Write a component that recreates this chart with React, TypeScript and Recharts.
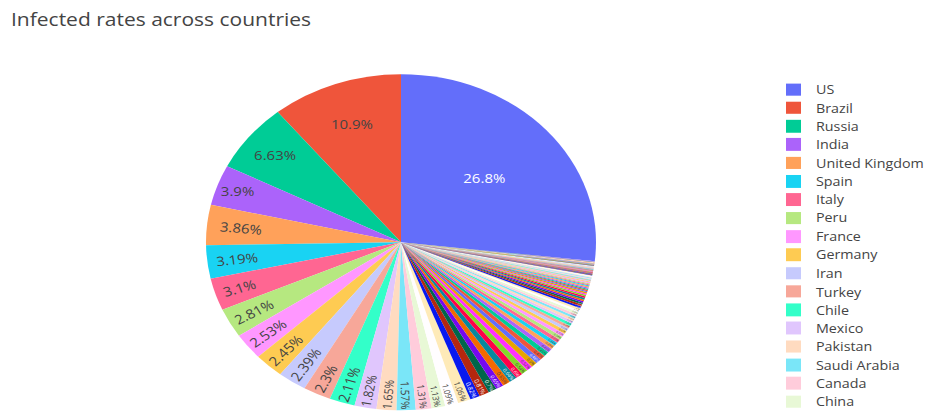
import { PieChart, Pie, Cell, Legend } from "recharts";

// share of world confirmed cases, in %, sorted descending (as plotly sorts the pie)
const countries = [
  "US", "Brazil", "Russia", "India", "United Kingdom", "Spain", "Italy", "Peru", "France", "Germany",
  "Iran", "Turkey", "Chile", "Mexico", "Pakistan", "Saudi Arabia", "Canada", "China", "Bangladesh", "Qatar",
  "South Africa", "Belgium", "Belarus", "Sweden", "Netherlands", "Colombia", "Ecuador", "United Arab Emirates", "Singapore", "Egypt",
  "Portugal", "Indonesia", "Kuwait", "Switzerland", "Ukraine", "Poland", "Argentina", "Ireland", "Philippines", "Afghanistan",
  "Dominican Republic", "Romania", "Oman", "Panama", "Israel", "Japan", "Bahrain", "Austria", "Bolivia", "Iraq",
  "Armenia", "Nigeria", "Kazakhstan", "Denmark", "Korea, South", "Serbia", "Moldova", "Ghana", "Algeria", "Czechia",
  "Norway", "Cameroon", "Morocco", "Malaysia", "Azerbaijan", "Guatemala", "Australia", "Finland", "Honduras", "Sudan",
  "Uzbekistan", "Tajikistan", "Nepal", "Senegal", "Congo (Kinshasa)", "Djibouti", "Guinea", "Cote d'Ivoire", "Luxembourg", "Hungary",
  "Haiti", "North Macedonia", "El Salvador", "Gabon", "Kenya", "Thailand", "Greece", "Bulgaria", "Bosnia and Herzegovina", "Venezuela",
  "Somalia", "Kyrgyzstan", "Ethiopia", "Croatia", "Cuba", "Maldives", "Estonia", "Sri Lanka", "Iceland", "Lithuania",
  "Mali", "Central African Republic", "Mauritania", "South Sudan", "Slovakia", "Costa Rica", "New Zealand", "Slovenia", "Nicaragua", "Lebanon",
  "Albania", "Equatorial Guinea", "Guinea-Bissau", "Kosovo", "Zambia", "Paraguay", "Latvia", "Tunisia", "Sierra Leone", "Madagascar",
  "Niger", "Cyprus", "Burkina Faso", "Uruguay", "Andorra", "Chad", "Jordan", "Georgia", "Diamond Princess", "San Marino",
  "Congo (Brazzaville)", "Cabo Verde", "Uganda", "Malta", "Jamaica", "Sao Tome and Principe", "West Bank and Gaza", "Yemen", "Tanzania", "Togo",
  "Mozambique", "Rwanda", "Malawi", "Taiwan*", "Liberia", "Eswatini", "Libya", "Mauritius", "Vietnam", "Montenegro",
  "Benin", "Zimbabwe", "Burma", "Mongolia", "Guyana", "Syria", "Comoros", "Brunei", "Angola", "Cambodia",
  "Trinidad and Tobago", "Suriname", "Bahamas", "Monaco", "Barbados", "Burundi", "Liechtenstein", "Eritrea", "Botswana", "Bhutan",
  "Gambia", "Namibia", "Saint Vincent and the Grenadines", "Antigua and Barbuda", "Timor-Leste", "Grenada", "Belize", "Laos", "Saint Lucia", "Fiji",
  "Dominica", "Saint Kitts and Nevis", "Holy See", "Seychelles", "MS Zaandam", "Western Sahara", "Papua New Guinea", "Lesotho",
];

const shares = [
  26.8, 10.9, 6.63, 3.9, 3.86, 3.19, 3.1, 2.81, 2.53, 2.45,
  2.39, 2.3, 2.11, 1.82, 1.65, 1.57, 1.31, 1.13, 1.09, 1.06,
  0.82, 0.81, 0.7, 0.65, 0.65, 0.64, 0.6, 0.54, 0.52, 0.5,
  0.48, 0.47, 0.45, 0.41, 0.39, 0.38, 0.35, 0.34, 0.33, 0.31,
  0.29, 0.28, 0.26, 0.25, 0.25, 0.23, 0.23, 0.23, 0.21, 0.2,
  0.19, 0.19, 0.18, 0.16, 0.16, 0.16, 0.15, 0.15, 0.14, 0.13,
  0.115, 0.115, 0.114, 0.112, 0.11, 0.11, 0.098, 0.094, 0.093, 0.09,
  0.067, 0.064, 0.062, 0.062, 0.06, 0.058, 0.058, 0.056, 0.055, 0.054,
  0.052, 0.05, 0.048, 0.044, 0.043, 0.042, 0.042, 0.041, 0.039, 0.035,
  0.033, 0.031, 0.031, 0.03, 0.03, 0.027, 0.026, 0.025, 0.024, 0.023,
  0.023, 0.022, 0.021, 0.021, 0.021, 0.02, 0.02, 0.02, 0.019, 0.019,
  0.019, 0.018, 0.018, 0.017, 0.017, 0.016, 0.015, 0.015, 0.014, 0.014,
  0.013, 0.013, 0.012, 0.011, 0.011, 0.011, 0.011, 0.011, 0.0095, 0.0093,
  0.0093, 0.0093, 0.009, 0.0085, 0.0082, 0.0079, 0.0077, 0.0075, 0.0068, 0.0067,
  0.0066, 0.0064, 0.0064, 0.0059, 0.0054, 0.0054, 0.0053, 0.0045, 0.0045, 0.0043,
  0.004, 0.004, 0.0035, 0.0027, 0.0021, 0.0021, 0.0021, 0.0019, 0.0017, 0.0017,
  0.0016, 0.0015, 0.0014, 0.0013, 0.0013, 0.0012, 0.0011, 0.0008, 0.0008, 0.0008,
  0.0004, 0.0004, 0.0004, 0.0003, 0.0003, 0.0003, 0.0003, 0.0003, 0.0003, 0.0002,
  0.0002, 0.0002, 0.0002, 0.0001, 0.0001, 0.0001, 0.0001, 0.0001,
];

// plotly colorway, then lightened, then darkened (extendpiecolors)
const palette = [
  "#636efa", "#EF553B", "#00cc96", "#ab63fa", "#FFA15A", "#19d3f3", "#FF6692", "#B6E880", "#FF97FF", "#FECB52",
  "#c6cafd", "#f7a799", "#33ffc9", "#e0c6fd", "#ffdbc0", "#7ae6f8", "#ffccdb", "#e8f8d6", "#fffdff", "#feeab8",
  "#0819ef", "#b5270f", "#00664b", "#7608ef", "#f36900", "#08889e", "#ff0049", "#84d82a", "#ff31ff", "#e9a401",
];

const SQUASH = 0.862; // the reference picture is squashed vertically
const W = 926;
const H = 482;
const CX = 401;
const CY = 281;
const R = 195;
const LABEL_FONT = 15;
const PAD = 3.6;
const LEGEND_ROWS = 18; // the rest of the legend scrolls out of view
const FONT = '"Open Sans", verdana, arial, sans-serif';

const data = countries.map((name, i) => ({ name, value: shares[i] }));
const total = shares.reduce((a, b) => a + b, 0);
const colorAt = (i: number) => palette[i % palette.length];
const startAngle = 90 - (360 * shares[0]) / total;

function fmtPct(v: number) {
  let t = (v * 100).toPrecision(3);
  if (t.indexOf(".") !== -1) t = t.replace(/\.?0+$/, "");
  return t + "%";
}

function textOn(hex: string) {
  const n = parseInt(hex.slice(1), 16);
  const r = (n >> 16) & 255, g = (n >> 8) & 255, b = n & 255;
  return (r * 299 + g * 587 + b * 114) / 1000 < 128 ? "#ffffff" : "#444444";
}

let ctx: CanvasRenderingContext2D | null = null;
function textWidth(s: string) {
  if (!ctx) ctx = document.createElement("canvas").getContext("2d");
  if (!ctx) return s.length * LABEL_FONT * 0.56;
  ctx.font = `${LABEL_FONT}px "Open Sans"`;
  return ctx.measureText(s).width;
}

function maxHalf(a: number, half: number, r: number) {
  const q = a + 1 / (2 * Math.tan(half));
  return r * Math.min(1 / (Math.sqrt(q * q + 0.5) + q), 1 / (Math.sqrt(a * a + 0.5) + a));
}
const rotOf = (t: number) => (((180 / Math.PI) * t + 720) % 180) - 90;

// inside text placement the way plotly does it (horizontal / tangential / radial, best fit)
function renderLabel(props: any) {
  const { index, midAngle } = props;
  const frac = shares[index] / total;
  const txt = fmtPct(frac);
  const w = textWidth(txt);
  const h = LABEL_FONT * 1.3;
  const half = frac * Math.PI;
  const theta = ((90 - midAngle) * Math.PI) / 180;
  const sinH = Math.sin(half);
  const rIn = Math.min(1 / (1 + 1 / sinH), 0.5);
  const hScale = (rIn * R * 2) / Math.hypot(w, h);
  let t = { scale: hScale, rc: 1 - rIn, rot: 0 };
  if (hScale < 1) {
    const rr = Math.max(0, R - 2 * PAD);
    const aT = h / w;
    const sT = maxHalf(aT, half, rr);
    const tan = { scale: (sT * 2) / w, rc: Math.cos(sT / rr) - (aT * sT) / rr, rot: rotOf(theta + Math.PI / 2) };
    const aR = w / h;
    const sR = maxHalf(aR, half, rr);
    const rad = { scale: (sR * 2) / h, rc: Math.cos(sR / rr) - (aR * sR) / rr, rot: rotOf(theta) };
    if (tan.scale > t.scale) t = tan;
    if (rad.scale > t.scale) t = rad;
  }
  const scale = Math.min(1, t.scale);
  if (scale * LABEL_FONT < 1.5) return null;
  const x = CX + R * t.rc * Math.sin(theta);
  const y = CY - R * t.rc * Math.cos(theta);
  return (
    <text
      key={`lbl-${index}`}
      transform={`translate(${x.toFixed(2)},${y.toFixed(2)}) rotate(${t.rot.toFixed(2)}) scale(${scale.toFixed(3)})`}
      textAnchor="middle"
      dominantBaseline="central"
      fontSize={LABEL_FONT}
      fontFamily={FONT}
      fill={textOn(colorAt(index))}
    >
      {txt}
    </text>
  );
}

// legend keeps the pie's (sorted) order; recharts would sort its payload by name
function renderLegend() {
  return (
    <div style={{ fontFamily: FONT, fontSize: 14.3, color: "#444" }}>
      {countries.slice(0, LEGEND_ROWS).map((name, i) => (
        <div key={name} style={{ height: 21.3, display: "flex", alignItems: "center", whiteSpace: "nowrap" }}>
          <span style={{ width: 14.6, height: 14.6, background: colorAt(i), display: "inline-block", marginRight: 15.4, flex: "none" }} />
          <span>{name}</span>
        </div>
      ))}
    </div>
  );
}

export default function App() {
  return (
    <div style={{ position: "absolute", left: 0, top: 0, width: 926, height: 415, overflow: "hidden", background: "#fff" }}>
      <div style={{ position: "relative", width: W, height: H, transform: `scaleY(${SQUASH})`, transformOrigin: "0 0" }}>
        <PieChart width={W} height={H} margin={{ top: 0, right: 0, bottom: 0, left: 0 }}>
          <Pie
            data={data}
            dataKey="value"
            nameKey="name"
            cx={CX}
            cy={CY}
            innerRadius={0}
            outerRadius={R}
            startAngle={startAngle}
            endAngle={startAngle + 360}
            stroke="none"
            label={renderLabel}
            labelLine={false}
            isAnimationActive={false}
          >
            {data.map((d, i) => (
              <Cell key={d.name} fill={colorAt(i)} />
            ))}
          </Pie>
          <Legend
            layout="vertical"
            align="right"
            verticalAlign="top"
            content={renderLegend}
            wrapperStyle={{ left: 786, top: 93.2, width: 140 }}
          />
        </PieChart>
        <svg width={W} height={50} style={{ position: "absolute", left: 0, top: 0 }}>
          <text x={11} y={30} fontSize={21} fill="#444" fontFamily={FONT}>
            Infected rates across countries
          </text>
        </svg>
      </div>
    </div>
  );
}
